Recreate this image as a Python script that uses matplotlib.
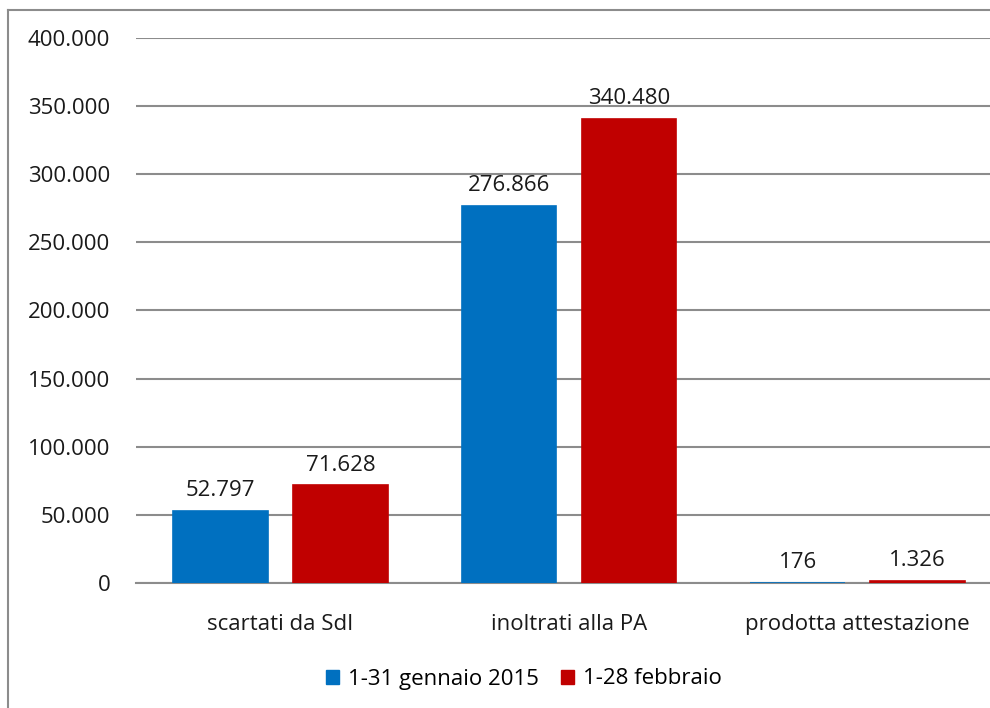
import matplotlib
matplotlib.use("Agg")
import matplotlib.pyplot as plt
from matplotlib.lines import Line2D
from matplotlib.patches import Patch
import numpy as np

categories = ["scartati da SdI", "inoltrati alla PA", "prodotta attestazione"]
series_names = ["1-31 gennaio 2015", "1-28 febbraio"]
gennaio = [52797, 276866, 176]
febbraio = [71628, 340480, 1326]
colors = ["#0070C0", "#C00000"]
yticks = [0, 50000, 100000, 150000, 200000, 250000, 300000, 350000, 400000]

def fmt(v):
    return f"{v:,}".replace(",", ".")

plt.rcParams['font.family'] = ['Open Sans', 'DejaVu Sans']
FS = 16

W, H = 990, 708
fig = plt.figure(figsize=(W / 100, H / 100), dpi=100)
ax = fig.add_axes([136 / W, 125 / H, 866 / W, 545 / H])

x = np.arange(len(categories))
bw = 0.328
off = 0.208
for vals, c, sgn in [(gennaio, colors[0], -1), (febbraio, colors[1], 1)]:
    ax.bar(x + sgn * off, vals, width=bw, color=c, edgecolor=c, linewidth=1.2, zorder=5)
    for xi, v in zip(x + sgn * off, vals):
        ax.annotate(fmt(v), (xi, v), xytext=(0, 7), textcoords="offset points",
                    ha="center", va="bottom", fontsize=FS, color="#1a1a1a")

ax.set_xlim(-0.5, 2.5)
ax.set_ylim(0, 400000)
ax.set_yticks(yticks)
ax.set_yticklabels([fmt(v) for v in yticks], fontsize=FS, color="#1a1a1a")
ax.set_xticks(x)
ax.set_xticklabels(categories, fontsize=FS, color="#1a1a1a")
ax.tick_params(axis="y", length=0, pad=18.5)
ax.tick_params(axis="x", length=0, pad=22)
ax.grid(axis="y", color="#8c8c8c", linewidth=1.5, zorder=0)
for s in ["top", "right", "left"]:
    ax.spines[s].set_visible(False)
ax.spines["bottom"].set_color("#8c8c8c")
ax.spines["bottom"].set_linewidth(1.5)
ax.spines["bottom"].set_zorder(4)

handles = [Patch(color=colors[0]), Patch(color=colors[1])]
fig.legend(handles, series_names, loc="center", bbox_to_anchor=(524 / W, 1 - 679 / H),
           ncol=2, frameon=False, fontsize=FS, handlelength=0.6, handleheight=0.6,
           handletextpad=0.4, columnspacing=1.0)

# outer frame (left and top edges visible)
fig.add_artist(Line2D([8 / W, 8 / W], [0, 1 - 10 / H], transform=fig.transFigure,
                      color="#8c8c8c", linewidth=1.5))
fig.add_artist(Line2D([8 / W, 1], [1 - 10 / H, 1 - 10 / H], transform=fig.transFigure,
                      color="#8c8c8c", linewidth=1.5))

fig.savefig("out.png", dpi=100)
